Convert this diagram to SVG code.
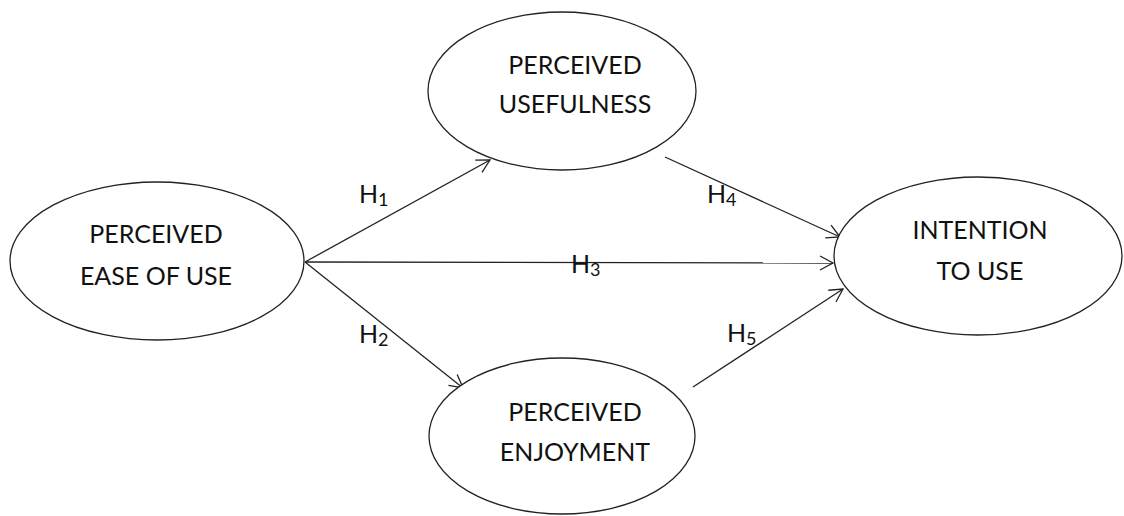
<svg xmlns="http://www.w3.org/2000/svg" width="1124" height="516" viewBox="0 0 1124 516">
<style>
.node ellipse{fill:#fff;stroke:#222;stroke-width:1.3}
.lbl{font-family:Lato,"Open Sans","Liberation Sans",sans-serif;font-size:25px;fill:#111;text-anchor:middle}
.h{font-family:Lato,"Open Sans","Liberation Sans",sans-serif;font-size:25px;fill:#111}
.h tspan.s{font-size:18px}
.edges line{stroke:#222;stroke-width:1.3;fill:none;marker-end:url(#arr)}
</style>
<defs>
<marker id="arr" markerUnits="userSpaceOnUse" markerWidth="16" markerHeight="16" viewBox="0 0 16 16" refX="14" refY="8" orient="auto">
<path d="M1,1 L14,8 L1,15" fill="none" stroke="#222" stroke-width="1.3"/>
</marker>
</defs>
<rect width="1124" height="516" fill="#fff"/>
<g class="edges" id="connectors">
<line x1="305" y1="262" x2="490" y2="160"/>
<line x1="305" y1="262" x2="463" y2="388"/>
<line x1="305" y1="262" x2="833" y2="263"/>
<line x1="665" y1="157" x2="840" y2="237"/>
<line x1="693" y1="387" x2="843" y2="289"/>
</g>
<g id="n-ease" class="node">
<ellipse cx="157" cy="261" rx="147" ry="79"/>
<text class="lbl" x="156" y="243">PERCEIVED</text>
<text class="lbl" x="156" y="285">EASE OF USE</text>
</g>
<g id="n-useful" class="node">
<ellipse cx="562" cy="91" rx="134" ry="79"/>
<text class="lbl" x="575" y="74">PERCEIVED</text>
<text class="lbl" x="575" y="113">USEFULNESS</text>
</g>
<g id="n-enjoy" class="node">
<ellipse cx="562" cy="436" rx="133" ry="78"/>
<text class="lbl" x="575" y="421">PERCEIVED</text>
<text class="lbl" x="575" y="461">ENJOYMENT</text>
</g>
<g id="n-intent" class="node">
<ellipse cx="978" cy="256" rx="144" ry="79"/>
<text class="lbl" x="980" y="239">INTENTION</text>
<text class="lbl" x="980" y="280">TO USE</text>
</g>
<g id="labels">
<text class="h" x="359" y="203">H<tspan class="s" dy="3">1</tspan></text>
<text class="h" x="359" y="343">H<tspan class="s" dy="3">2</tspan></text>
<text class="h" x="571" y="273">H<tspan class="s" dy="3">3</tspan></text>
<text class="h" x="707" y="203">H<tspan class="s" dy="3">4</tspan></text>
<text class="h" x="727" y="342">H<tspan class="s" dy="3">5</tspan></text>
</g>
</svg>
